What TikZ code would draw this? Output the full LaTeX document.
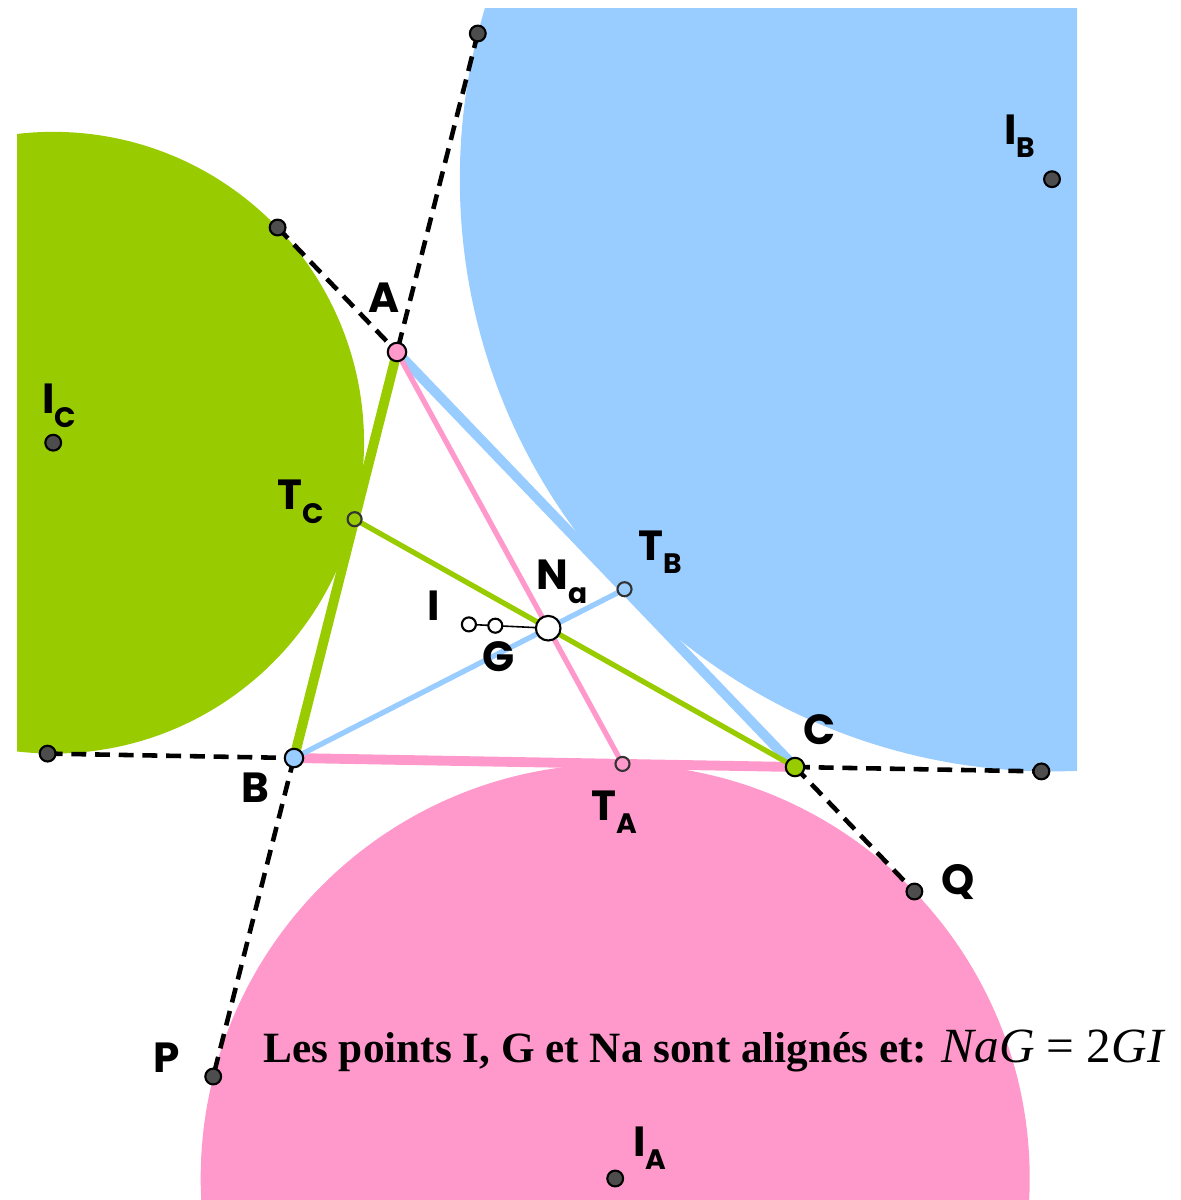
\documentclass[tikz,border=0pt]{standalone}
\usepackage{fontspec}
\setmainfont{Liberation Serif}
\newfontfamily\lblfont{Poppins}
\definecolor{exgreen}{HTML}{99CC00}
\definecolor{exblue}{HTML}{99CCFF}
\definecolor{expink}{HTML}{FF99CC}
\definecolor{ptgrey}{HTML}{4D4D4D}
\newcommand{\ptname}[2]{#1\raisebox{-0.32em}{\fontsize{16}{16}\selectfont #2}}

\begin{document}
\begin{tikzpicture}[x=0.02cm,y=-0.02cm,
    side/.style={line width=5.6pt},
    cevian/.style={line width=3pt},
    ext/.style={line width=2.6pt,dash pattern=on 8.5pt off 5pt},
    pt/.style={circle,draw=black,line width=1.2pt,inner sep=0pt,minimum size=#1},
    pt/.default=8pt,
    lbl/.style={font=\lblfont\bfseries\fontsize{24}{24}\selectfont}]
    \useasboundingbox (0,0) rectangle (1180,1200);

    % triangle and special points
    \coordinate (A) at (397,352);
    \coordinate (B) at (294,758);
    \coordinate (C) at (795,767);
    \coordinate (I) at (468.9,624.4);
    \coordinate (G) at (495.3,625.7);
    \coordinate (Na) at (548.2,628.2);
    \coordinate (TA) at (622.5,763.9);
    \coordinate (TB) at (624.5,589.2);
    \coordinate (TC) at (354.6,519.2);

    % excenters and tangency points
    \coordinate (IA) at (615.2,1178.5);
    \coordinate (IB) at (1052.0,179.2);
    \coordinate (IC) at (53.2,442.7);
    \coordinate (P) at (213.2,1076.5);
    \coordinate (Q) at (914.4,891.5);
    \coordinate (JB1) at (477.8,33.5);
    \coordinate (JB2) at (1041.4,771.4);
    \coordinate (JC1) at (277.6,227.5);
    \coordinate (JC2) at (47.6,753.6);

    % excircles
    \begin{scope}
        \clip (17,8) rectangle (1077,1200);
        \fill[exgreen] (IC) circle (6.218cm);
        \fill[exblue] (IB) circle (11.846cm);
        \fill[expink] (IA) circle (8.292cm);
    \end{scope}

    % extended sides
    \draw[ext] (JB1) -- (A);
    \draw[ext] (B) -- (P);
    \draw[ext] (JC1) -- (A);
    \draw[ext] (C) -- (Q);
    \draw[ext] (JC2) -- (B);
    \draw[ext] (C) -- (JB2);

    % sides
    \draw[side,exgreen] (A) -- (B);
    \draw[side,exblue] (A) -- (C);
    \draw[side,expink] (B) -- (C);

    % cevians to the tangency points
    \draw[cevian,expink] (A) -- (TA);
    \draw[cevian,exblue] (B) -- (TB);
    \draw[cevian,exgreen] (C) -- (TC);
    \draw[line width=0.9pt] (I) -- (Na);

    % points
    \foreach \p in {IA,IB,IC,P,Q,JB1,JB2,JC1,JC2}
    {
        \node[pt=9pt,fill=ptgrey] (dot\p) at (\p) {};
    }
    \node[pt=10.5pt,fill=expink] (dotA) at (A) {};
    \node[pt=10.5pt,fill=exblue] (dotB) at (B) {};
    \node[pt=10.5pt,fill=exgreen] (dotC) at (C) {};
    \node[pt,fill=expink,draw=black!80] (dotTA) at (TA) {};
    \node[pt,fill=exblue,draw=black!80] (dotTB) at (TB) {};
    \node[pt,fill=exgreen,draw=black!80] (dotTC) at (TC) {};
    \node[pt,fill=white] (dotI) at (I) {};
    \node[pt,fill=white] (dotG) at (G) {};
    \node[pt=14pt,fill=white] (dotNa) at (Na) {};

    % labels
    \node[lbl] (labA) at (384,298) {A};
    \node[lbl] (labB) at (255,788) {B};
    \node[lbl] (labC) at (820,730) {C};
    \node[lbl] (labP) at (167,1058) {P};
    \node[lbl] (labQ) at (958,882) {Q};
    \node[lbl] (labI) at (434,606) {I};
    \node[lbl] (labG) at (499,657) {G};
    \node[lbl] (labNa) at (562,582) {\ptname{N}{a}};
    \node[lbl] (labTA) at (614,812) {\ptname{T}{A}};
    \node[lbl] (labTB) at (660,552) {\ptname{T}{B}};
    \node[lbl] (labTC) at (301,502) {\ptname{T}{C}};
    \node[lbl] (labIA) at (650,1148) {\ptname{I}{A}};
    \node[lbl] (labIB) at (1020,136) {\ptname{I}{B}};
    \node[lbl] (labIC) at (59,406) {\ptname{I}{C}};

    \node[anchor=base west,inner sep=0pt] (note) at (263,1062)
        {\fontsize{24.6}{25}\selectfont\bfseries Les points I, G et Na sont alignés et:
        {\fontsize{28}{28}\selectfont\mdseries\textit{NaG} = 2\textit{GI}}};
\end{tikzpicture}
\end{document}
